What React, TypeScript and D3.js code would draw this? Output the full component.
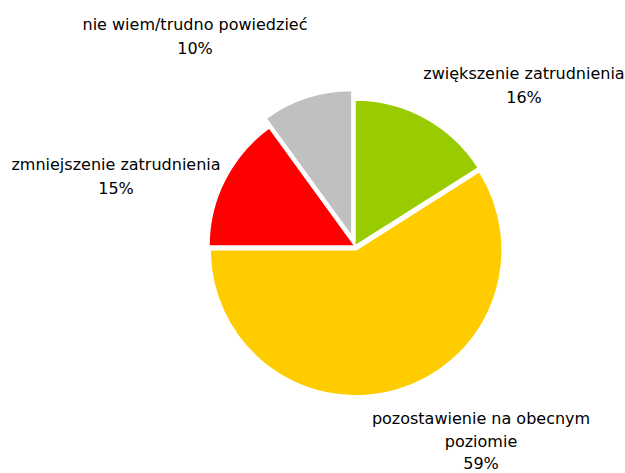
import React from "react";
import * as d3 from "d3";

const categories = [
  "zwiększenie zatrudnienia",
  "pozostawienie na obecnym poziomie",
  "zmniejszenie zatrudnienia",
  "nie wiem/trudno powiedzieć",
];
const values = [16, 59, 15, 10];
const colors = ["#99CC00", "#FFCC00", "#FF0000", "#C0C0C0"];
const explode = [0, 4, 0, 10];
const labelLines = [
  ["zwiększenie zatrudnienia", "16%"],
  ["pozostawienie na obecnym", "poziomie", "59%"],
  ["zmniejszenie zatrudnienia", "15%"],
  ["nie wiem/trudno powiedzieć", "10%"],
];
const labelPos = [
  [524, 79],
  [481, 424],
  [116, 170],
  [195, 30],
];
const lineGap = [23.5, 22.5, 23.5, 23.5];

const W = 625;
const H = 473;
const cx = 355;
const cy = 246;
const R = 146;

export default function App() {
  const pie = d3.pie<number>().sort(null).startAngle(0).endAngle(2 * Math.PI);
  const arcs = pie(values);
  const arc = d3.arc<d3.PieArcDatum<number>>().innerRadius(0).outerRadius(R);
  return (
    <svg
      width={W}
      height={H}
      style={{ position: "absolute", left: 0, top: 0, background: "#fff" }}
      fontFamily="'DejaVu Sans', sans-serif"
      fontSize={16}
    >
      <g transform={`translate(${cx},${cy})`}>
        {arcs.map((a, i) => {
          const mid = (a.startAngle + a.endAngle) / 2;
          const dx = Math.sin(mid) * explode[i];
          const dy = -Math.cos(mid) * explode[i];
          return (
            <path
              key={categories[i]}
              d={arc(a) || ""}
              transform={`translate(${dx},${dy})`}
              fill={colors[i]}
              stroke="#fff"
              strokeWidth={1.5}
              strokeLinejoin="round"
            />
          );
        })}
      </g>
      {labelLines.map((lines, i) => (
        <text
          key={categories[i]}
          x={labelPos[i][0]}
          y={labelPos[i][1]}
          textAnchor="middle"
          fill="#000"
        >
          {lines.map((l, j) => (
            <tspan key={j} x={labelPos[i][0]} dy={j === 0 ? 0 : lineGap[i]}>
              {l}
            </tspan>
          ))}
        </text>
      ))}
    </svg>
  );
}
